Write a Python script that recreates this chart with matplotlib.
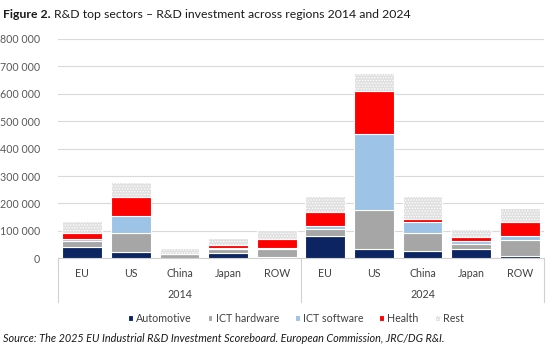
import numpy as np
import matplotlib.pyplot as plt
from matplotlib import transforms

plt.rcParams['font.family'] = ['Lato', 'DejaVu Sans']
plt.rcParams['hatch.linewidth'] = 0.6

# R&D investment (EUR million) by sector, region and year
regions = ['EU', 'US', 'China', 'Japan', 'ROW']
years = ['2014', '2024']
sectors = ['Automotive', 'ICT hardware', 'ICT software', 'Health', 'Rest']

automotive_2014 = [42000, 23000, 2000, 20000, 6000]
ict_hardware_2014 = [21000, 70000, 12000, 13000, 28000]
ict_software_2014 = [8000, 62000, 1000, 6000, 4000]
health_2014 = [22000, 70000, 2000, 8000, 32000]
rest_2014 = [44000, 52000, 19000, 26000, 35000]

automotive_2024 = [80000, 34000, 28000, 33000, 10000]
ict_hardware_2024 = [26000, 143000, 63000, 18000, 57000]
ict_software_2024 = [13000, 278000, 40000, 12000, 15000]
health_2024 = [50000, 157000, 11000, 16000, 51000]
rest_2024 = [60000, 63000, 86000, 28000, 49000]

yticks = [0, 100000, 200000, 300000, 400000, 500000, 600000, 700000, 800000]

colors = ['#0c2461', '#a6a6a6', '#9dc3e6', '#ff0000', '#e0e0e0']

series = [automotive_2014 + automotive_2024,
          ict_hardware_2014 + ict_hardware_2024,
          ict_software_2014 + ict_software_2024,
          health_2014 + health_2024,
          rest_2014 + rest_2024]

fig = plt.figure(figsize=(5.53, 3.48), dpi=100)
ax = fig.add_axes([0.1049, 0.2578, 0.8788, 0.6302])

x = np.arange(len(regions) * len(years))
bottom = np.zeros(len(x))
for name, vals, col in zip(sectors, series, colors):
    vals = np.array(vals, dtype=float)
    if name == 'Rest':
        ax.bar(x, vals, 0.82, bottom=bottom, color=col, edgecolor='white',
               linewidth=0.8, hatch='......', label=name, zorder=3)
    else:
        ax.bar(x, vals, 0.82, bottom=bottom, color=col, edgecolor='white',
               linewidth=0.8, label=name, zorder=3)
    bottom += vals

ax.set_xlim(-0.5, len(x) - 0.5)
ax.set_ylim(0, 800000)
ax.set_yticks(yticks)
ax.set_yticklabels([f'{v:,}'.replace(',', ' ') for v in yticks],
                   fontsize=7.7, color='#595959')
ax.tick_params(axis='y', length=0, pad=13)
ax.grid(axis='y', color='#d9d9d9', linewidth=0.8, zorder=0)
for s in ['top', 'right', 'left']:
    ax.spines[s].set_visible(False)
ax.spines['bottom'].set_color('#d0d0d0')
ax.spines['bottom'].set_linewidth(0.8)

ax.set_xticks(x)
ax.set_xticklabels(regions * len(years), fontsize=7.7, color='#404040')
ax.tick_params(axis='x', length=0, pad=7)

# second level of the category axis: years and group separators
trans = transforms.blended_transform_factory(ax.transData, ax.transAxes)
n = len(regions)
for i, yr in enumerate(years):
    ax.text(i * n + (n - 1) / 2, -0.165, yr, transform=trans, ha='center',
            va='center', fontsize=7.7, color='#404040')
for k in range(len(years) + 1):
    ax.plot([k * n - 0.5, k * n - 0.5], [0, -0.2], transform=trans,
            color='#d0d0d0', linewidth=0.8, clip_on=False)

leg = fig.legend(loc='center', bbox_to_anchor=(0.535, 0.086), ncol=5,
                 frameon=False, fontsize=7.7, handlelength=0.45,
                 handleheight=0.45, handletextpad=0.3, columnspacing=1.5)
for t in leg.get_texts():
    t.set_color('#404040')

t1 = fig.text(0.006, 0.958, 'Figure 2.', fontsize=8.8, fontweight='bold',
              va='center', color='#1a1a1a')
fig.canvas.draw()
bb = t1.get_window_extent().transformed(fig.transFigure.inverted())
fig.text(bb.x1 + 0.005, 0.958,
         'R&D top sectors – R&D investment across regions 2014 and 2024',
         fontsize=8.8, va='center', color='#1a1a1a')

fig.text(0.006, 0.028,
         'Source: The 2025 EU Industrial R&D Investment Scoreboard. '
         'European Commission, JRC/DG R&I.',
         fontsize=7.8, style='italic', va='center', color='#1a1a1a')

fig.savefig('out.png', dpi=100)
